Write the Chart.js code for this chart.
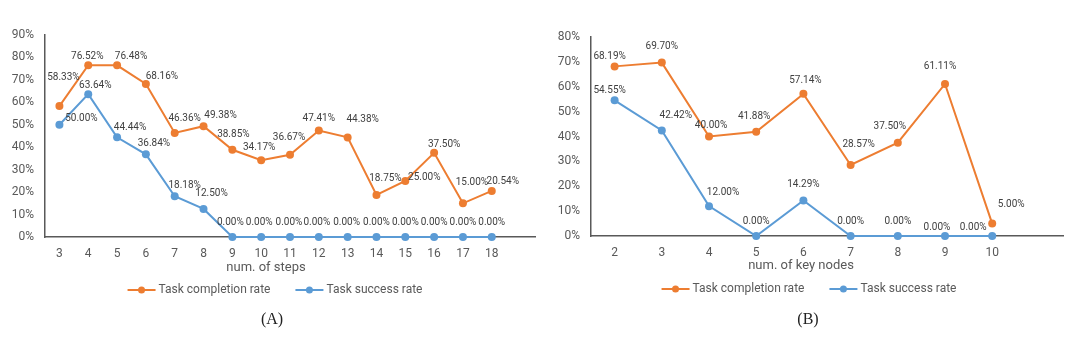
<!DOCTYPE html>
<html>
<head>
<meta charset="utf-8">
<script src="https://cdn.jsdelivr.net/npm/chart.js@4.4.0/dist/chart.umd.min.js"></script>
<style>
  body { margin: 0; background: #fff; width: 1080px; height: 351px; position: relative; overflow: hidden; }
  .box { position: absolute; top: 0; width: 540px; height: 351px; }
  .cap { position: absolute; top: 310px; width: 60px; text-align: center; font: 16px "Liberation Serif", serif; color: #222; }
</style>
</head>
<body>
<div class="box" style="left:0"><canvas id="chartA" width="540" height="351"></canvas></div>
<div class="box" style="left:540px"><canvas id="chartB" width="540" height="351"></canvas></div>
<div class="cap" style="left:242px">(A)</div>
<div class="cap" style="left:778px">(B)</div>
<script>
// (A) by number of steps
const steps = [3, 4, 5, 6, 7, 8, 9, 10, 11, 12, 13, 14, 15, 16, 17, 18]
const stepsCompletion = [58.33, 76.52, 76.48, 68.16, 46.36, 49.38, 38.85, 34.17, 36.67, 47.41, 44.38, 18.75, 25.00, 37.50, 15.00, 20.54]
const stepsSuccess = [50.00, 63.64, 44.44, 36.84, 18.18, 12.50, 0, 0, 0, 0, 0, 0, 0, 0, 0, 0]

// (B) by number of key nodes
const keyNodes = [2, 3, 4, 5, 6, 7, 8, 9, 10]
const nodesCompletion = [68.19, 69.70, 40.00, 41.88, 57.14, 28.57, 37.50, 61.11, 5.00]
const nodesSuccess = [54.55, 42.42, 12.00, 0, 14.29, 0, 0, 0, 0]

const seriesNames = ['Task completion rate', 'Task success rate']
const colors = ['#ED7D31', '#5B9BD5']

// where Excel put each data label, relative to its point (px)
const offsetsA = [
  [[4,-29],[-1,-9],[14,-9],[16,-8],[10,-14],[17,-11],[1,-15],[-2,-13],[-1,-17],[0,-12],[15,-18],[9,-16],[19,-3],[10,-8],[9,-21],[11,-9]],
  [[22,-6],[7,-9],[13,-10],[8,-11],[10,-11],[8,-15],[-2,-15],[-2,-15],[-1,-15],[-2,-15],[-1,-15],[0,-15],[0,-15],[0,-15],[0,-15],[0,-15]]
]
const offsetsB = [
  [[-5,-10],[0,-16],[2,-11],[-2,-15],[2,-13],[8,-20],[-8,-16],[-5,-17],[19,-19]],
  [[-5,-10],[14,-15],[14,-14],[0,-15],[0,-16],[0,-15],[0,-15],[-8,-9],[-19,-9]]
]

const FONT = 'Roboto, "Open Sans", sans-serif'

const decorations = {
  id: 'decorations',
  afterDatasetsDraw(chart, args, o) {
    const ctx = chart.ctx
    ctx.save()
    ctx.font = '10px ' + FONT
    ctx.fillStyle = '#404040'
    ctx.textAlign = 'center'
    ctx.textBaseline = 'middle'
    chart.data.datasets.forEach((ds, di) => {
      chart.getDatasetMeta(di).data.forEach((pt, i) => {
        const off = o.offsets[di][i]
        ctx.fillText(ds.data[i].y.toFixed(2) + '%', pt.x + off[0], pt.y + off[1])
      })
    })

    // axis title
    ctx.font = '13px ' + FONT
    ctx.fillStyle = '#595959'
    ctx.fillText(o.title, o.titleX, o.titleY)

    // legend
    ctx.font = '12px ' + FONT
    ctx.textAlign = 'left'
    const lineLen = 28, gap = 3, itemGap = 25
    const widths = seriesNames.map(n => lineLen + gap + ctx.measureText(n).width)
    let x = o.legendX - (widths[0] + widths[1] + itemGap) / 2
    seriesNames.forEach((n, i) => {
      ctx.strokeStyle = colors[i]
      ctx.fillStyle = colors[i]
      ctx.lineWidth = 2
      ctx.beginPath()
      ctx.moveTo(x, o.legendY)
      ctx.lineTo(x + lineLen, o.legendY)
      ctx.stroke()
      ctx.beginPath()
      ctx.arc(x + lineLen / 2, o.legendY, 3.5, 0, Math.PI * 2)
      ctx.fill()
      ctx.fillStyle = '#595959'
      ctx.fillText(n, x + lineLen + gap, o.legendY)
      x += widths[i] + itemGap
    })
    ctx.restore()
  }
}

function makeChart(id, cats, completion, success, opt) {
  const ds = [completion, success].map((vals, i) => ({
    label: seriesNames[i],
    data: vals.map((v, j) => ({ x: cats[j], y: v })),
    borderColor: colors[i],
    backgroundColor: colors[i],
    borderWidth: 2,
    pointRadius: 4,
    pointBorderWidth: 0,
    clip: false
  }))
  return new Chart(document.getElementById(id), {
    type: 'line',
    data: { datasets: ds },
    options: {
      responsive: false,
      animation: false,
      layout: { padding: { top: opt.top, right: opt.right, bottom: opt.bottom, left: 0 } },
      plugins: {
        legend: { display: false },
        tooltip: { enabled: false },
        decorations: opt.deco
      },
      scales: {
        x: {
          type: 'linear',
          min: cats[0] - 0.5,
          max: cats[cats.length - 1] + 1.5,
          afterBuildTicks: s => { s.ticks = cats.map(v => ({ value: v })) },
          afterFit: s => { s.height = 40 },
          grid: { display: false, drawTicks: false },
          border: { display: true, color: '#595959', width: 1.5 },
          ticks: { padding: 10, color: '#595959', font: { family: FONT, size: 12 }, maxRotation: 0, autoSkip: false, callback: v => String(v) }
        },
        y: {
          min: 0,
          max: opt.yMax,
          afterFit: s => { s.width = opt.yWidth },
          grid: { display: false, drawTicks: false },
          border: { display: true, color: '#595959', width: 1.5 },
          ticks: { stepSize: 10, padding: 11, color: '#595959', font: { family: FONT, size: 12 }, callback: v => v + '%' }
        }
      }
    },
    plugins: [decorations]
  })
}

makeChart('chartA', steps, stepsCompletion, stepsSuccess, {
  yMax: 90, yWidth: 45, top: 35, right: 5, bottom: 74,
  deco: { offsets: offsetsA, title: 'num. of steps', titleX: 266, titleY: 268, legendX: 275, legendY: 290 }
})

makeChart('chartB', keyNodes, nodesCompletion, nodesSuccess, {
  yMax: 80, yWidth: 51, top: 37, right: 17, bottom: 75,
  deco: { offsets: offsetsB, title: 'num. of key nodes', titleX: 261, titleY: 266, legendX: 269, legendY: 289 }
})
</script>
</body>
</html>
